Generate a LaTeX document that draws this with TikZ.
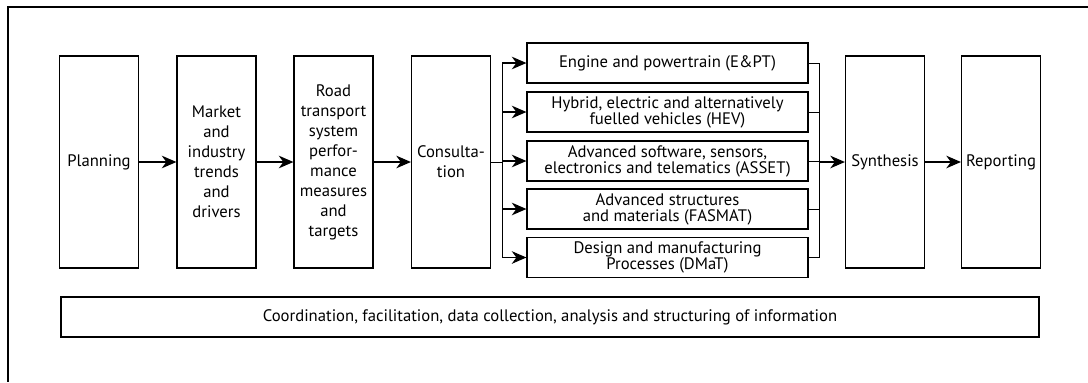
\documentclass[tikz,border=0pt]{standalone}
\usepackage{fontspec}
\setmainfont{PT Sans}
\usetikzlibrary{arrows.meta}
\begin{document}
\begin{tikzpicture}[x=0.75pt,y=-0.75pt,
  line width=0.9pt,
  >={Stealth[length=11pt, width=9.5pt, inset=3.5pt]},
  bigbox/.style={draw, minimum width=59.25pt, minimum height=159pt, inner sep=1pt, align=center, font=\fontsize{12.5}{15}\selectfont},
  areabox/.style={draw, minimum width=210.75pt, minimum height=30pt, inner sep=1pt, align=center, font=\fontsize{12.5}{12}\selectfont},
  barbox/.style={draw, minimum width=733.5pt, minimum height=30pt, inner sep=1pt, font=\fontsize{12.5}{15}\selectfont},
  arr/.style={->},
  conn/.style={line width=0.7pt}]
\useasboundingbox (0,0) rectangle (1088,382);
% outer frame (cropped)
\coordinate (ftl) at (8,7);
\coordinate (ftr) at (1088,7);
\coordinate (fbl) at (8,382);
\draw (ftr) -- (ftl) -- (fbl);
% main boxes
\node[bigbox] (plan) at (99,162) {Planning};
\node[bigbox] (mkt) at (216.5,162) {Market\\and\\industry\\trends\\and\\drivers};
\node[bigbox] (road) at (333.5,162) {Road\\transport\\system\\perfor-\\mance\\measures\\and\\targets};
\node[bigbox] (cons) at (451,162) {Consulta-\\tion};
\node[bigbox] (syn) at (885,162) {Synthesis};
\node[bigbox] (rep) at (1001,162) {Reporting};
% technology areas
\node[areabox] (a1) at (667.5,63) {Engine and powertrain (E\&PT)};
\node[areabox] (a2) at (667.5,112) {Hybrid, electric and alternatively\\fuelled vehicles (HEV)};
\node[areabox] (a3) at (667.5,161) {Advanced software, sensors,\\electronics and telematics (ASSET)};
\node[areabox] (a4) at (667.5,209) {Advanced structures\\and materials (FASMAT)};
\node[areabox] (a5) at (667.5,257.5) {Design and manufacturing\\Processes (DMaT)};
% bottom bar
\node[barbox] (bar) at (550,317) {Coordination, facilitation, data collection, analysis and structuring of information};
% arrows between main boxes
\draw[arr] (plan.east) -- (mkt.west);
\draw[arr] (mkt.east) -- (road.west);
\draw[arr] (road.east) -- (cons.west);
\draw[arr] (syn.east) -- (rep.west);
% branching
\coordinate (bx) at (502,162);
\draw[conn] (cons.east) -- (bx);
\draw[conn] (bx |- a1.west) -- (bx |- a5.west);
\foreach \i in {1,...,5} {
  \draw[arr] (bx |- a\i.west) -- (a\i.west);
}
% merging
\coordinate (mx) at (819,162);
\foreach \i in {1,...,5} {
  \draw[conn] (a\i.east) -- (mx |- a\i.east);
}
\draw[conn] (mx |- a1.east) -- (mx |- a5.east);
\draw[arr] (mx) -- (syn.west);
\end{tikzpicture}
\end{document}
